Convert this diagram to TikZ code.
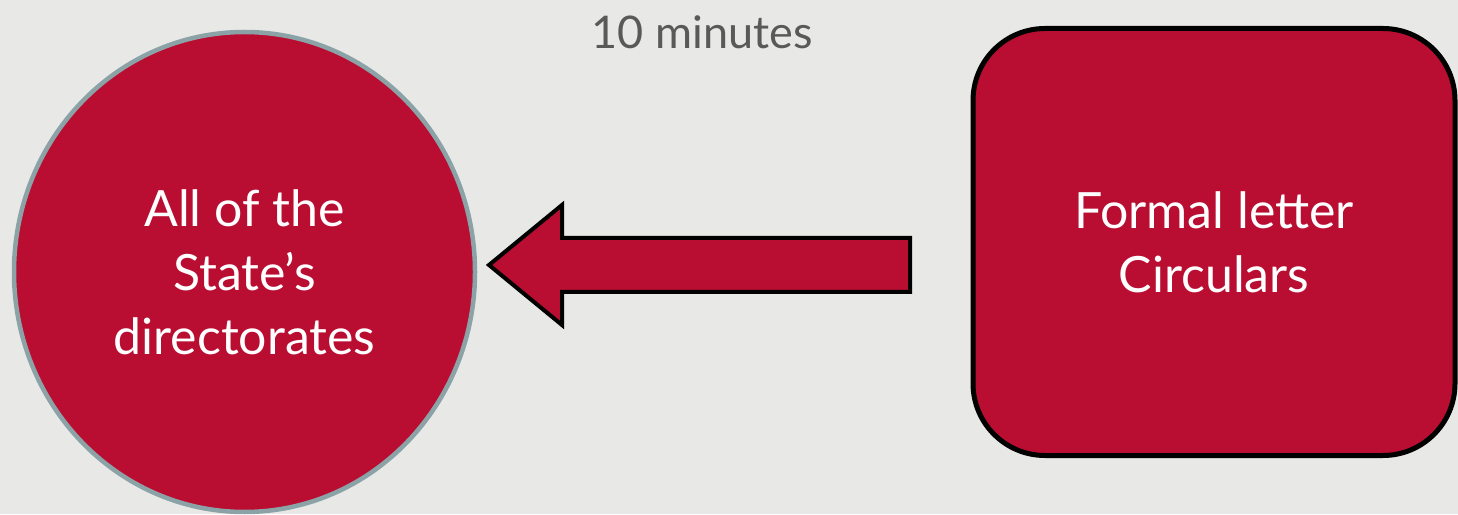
\documentclass[tikz,border=0pt]{standalone}
\usepackage{fontspec}
\setmainfont{Lato}
\usetikzlibrary{shapes.geometric}
\definecolor{bgc}{HTML}{E8E8E6}
\definecolor{redc}{HTML}{B90E31}
\definecolor{rimc}{HTML}{8BA3A6}
\definecolor{grayt}{HTML}{595959}
\begin{document}
\begin{tikzpicture}[x=1pt,y=1pt,
  lbl/.style={text=white,font=\fontsize{50}{64}\selectfont,align=center},
  circ/.style={ellipse,fill=redc,draw=rimc,line width=4.5pt,minimum width=461pt,minimum height=480pt,inner sep=0pt},
  rbox/.style={rectangle,rounded corners=72pt,fill=redc,draw=black,line width=5pt,minimum width=482pt,minimum height=427pt,inner sep=0pt},
  barrow/.style={fill=redc,draw=black,line width=4pt,line join=miter}]
\fill[bgc] (0,0) rectangle (1458,514);
\useasboundingbox (0,0) rectangle (1458,514);
\node[circ,lbl] (dir) at (244.5,242) {All of the\\State’s\\directorates};
\node[rbox,lbl] (src) at (1214,272) {Formal letter\\Circulars};
\node[text=grayt,font=\fontsize{45}{54}\selectfont] (time) at (702,482) {10 minutes};
\coordinate (tip) at (489,249);
\coordinate (tail) at (910,249);
\draw[barrow] (tip) -- (562,309) -- (562,276) -- (tail |- 0,276) -- (tail |- 0,222) -- (562,222) -- (562,189) -- cycle;
\end{tikzpicture}
\end{document}
